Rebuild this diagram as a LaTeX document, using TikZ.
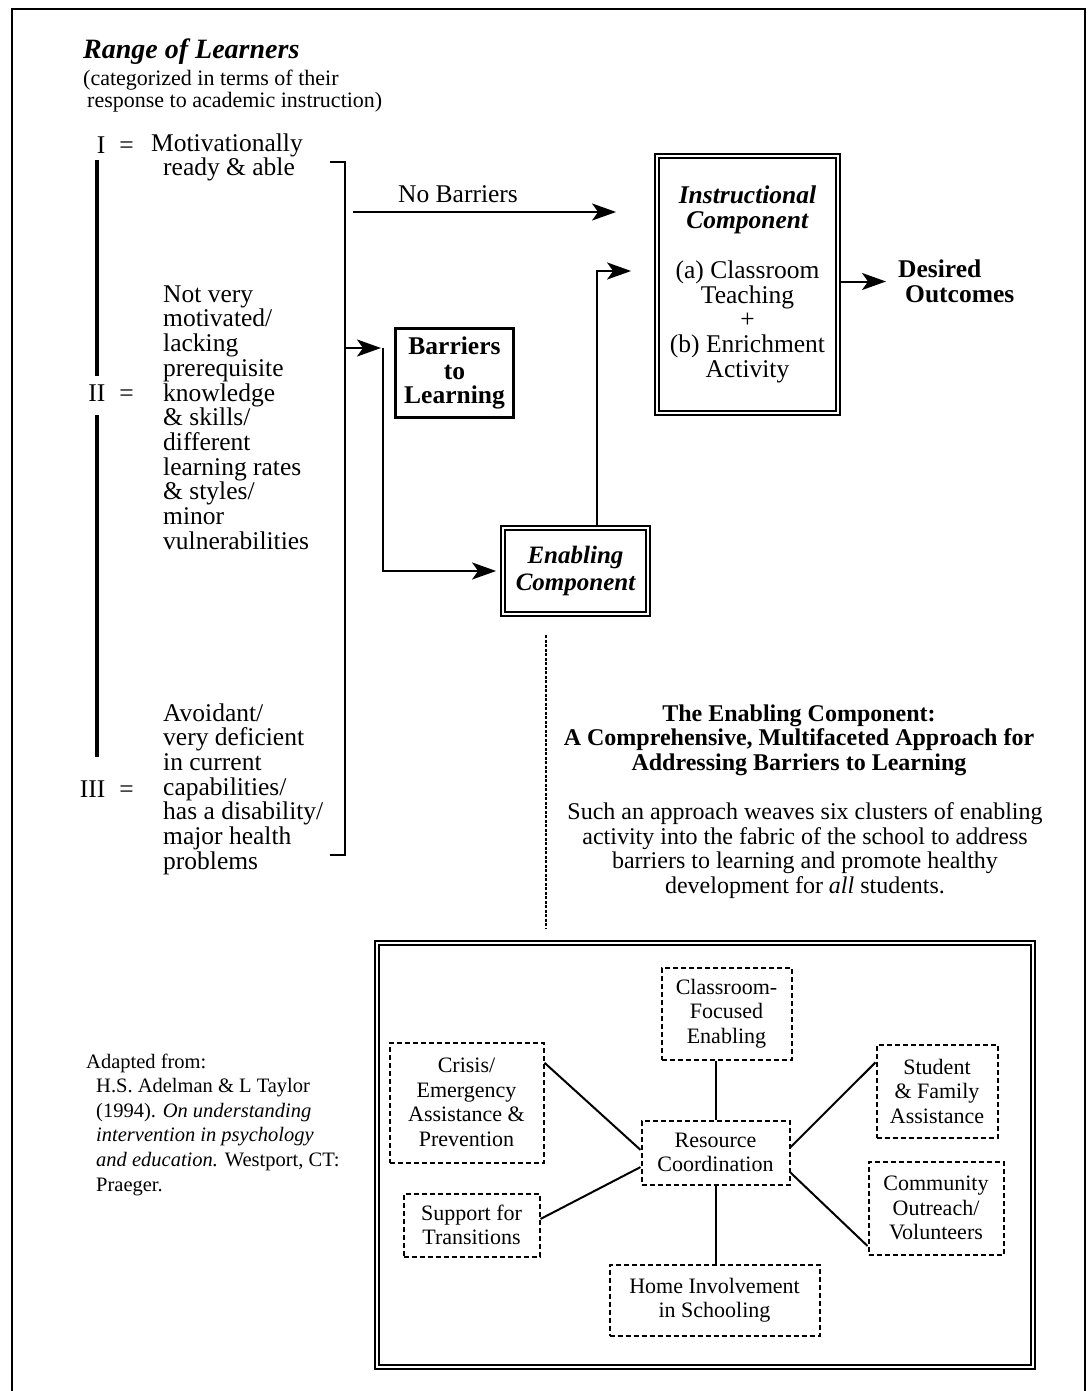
\documentclass[tikz,border=0pt]{standalone}
\usepackage{fontspec}
\setmainfont{Liberation Serif}
\usetikzlibrary{arrows.meta}

\tikzset{
  >={Stealth[length=24pt,width=17pt,inset=6pt]},
  txt/.style={inner sep=0pt,align=left,font=\fontsize{25.5}{24.7}\selectfont},
  ctr/.style={inner sep=0pt,align=center,font=\fontsize{24}{24.5}\selectfont},
  barbox/.style={draw,line width=2.6pt,inner sep=0pt,align=center,
    minimum width=118pt,minimum height=89pt,font=\bfseries\fontsize{25.5}{24.7}\selectfont},
  dblbox/.style={draw,double,double distance=2.6pt,line width=1.8pt,inner sep=0pt,align=center},
  cluster/.style={draw,dash pattern=on 5pt off 3pt,line width=2pt,inner sep=0pt,
    align=center,font=\fontsize{22}{24.5}\selectfont},
  rangebar/.style={line width=3.5pt},
  link/.style={line width=2pt},
  flow/.style={line width=2pt,->},
  vdash/.style={line width=2pt,dash pattern=on 3pt off 1.5pt}
}

\begin{document}
\begin{tikzpicture}[x=1pt,y=-1pt]
  \useasboundingbox (0,0) rectangle (1090,1391);
  \draw[line width=2.6pt] (12,1391) -- (12,9) -- (1085,9) -- (1085,1391);

  % range of learners
  \node[txt,anchor=west,font=\bfseries\itshape\fontsize{28}{28}\selectfont] (range) at (83,52) {Range of Learners};
  \node[txt,anchor=west,font=\fontsize{22}{22.5}\selectfont] (rangesub) at (83,91)
    {(categorized in terms of their\\\hspace*{4pt}response to academic instruction)};

  \node[txt,anchor=east] (lab1) at (134,145) {I\hspace{14pt}=};
  \node[txt,anchor=west] (grp1) at (151,157.5) {Motivationally\\\hspace*{12pt}ready \& able};
  \node[txt,anchor=east] (lab2) at (134,393) {II\hspace{14pt}=};
  \node[txt,anchor=west] (grp2) at (163,417.5) {Not very\\motivated/\\lacking\\prerequisite\\knowledge\\\& skills/\\different\\learning rates\\\& styles/\\minor\\vulnerabilities};
  \node[txt,anchor=east] (lab3) at (134,789) {III\hspace{14pt}=};
  \node[txt,anchor=west] (grp3) at (163,789) {Avoidant/\\very deficient\\in current\\capabilities/\\has a disability/\\major health\\problems};

  \draw[rangebar] (97,160) -- (97,376);
  \draw[rangebar] (97,415) -- (97,757);
  \draw[link] (330,162) -- (345,162) -- (345,855) -- (330,855);

  % components
  \node[barbox] (barr) at (454.5,373) {Barriers\\to\\Learning};
  \node[dblbox,minimum width=181pt,minimum height=257pt,font=\fontsize{25.5}{24.7}\selectfont] (instr) at (747.5,284.5)
    {\textbf{\textit{Instructional}}\\\textbf{\textit{Component}}\\[25pt](a) Classroom\\Teaching\\+\\(b) Enrichment\\Activity};
  \node[dblbox,minimum width=145pt,minimum height=86pt,font=\bfseries\itshape\fontsize{25}{27}\selectfont] (enab) at (575.5,571) {Enabling\\Component};
  \node[txt,anchor=west,font=\bfseries\fontsize{25.5}{24.7}\selectfont] (desired) at (898,281.5) {Desired\\\hspace*{7pt}Outcomes};
  \node[txt] (nobar) at (458,194) {No Barriers};

  \coordinate (nbstart) at (353,212);
  \coordinate (brk) at (345,348);
  \coordinate (split) at (383,348);
  \coordinate (upturn) at (597,271);

  \draw[flow,shorten >=40pt] (nbstart) -- (nbstart -| instr.west);
  \draw[flow,shorten >=2pt] (brk) -- (split);
  \draw[flow,shorten >=6pt] (split) |- (enab.west);
  \draw[flow,shorten >=25pt] (upturn |- enab.north) -- (upturn) -- (upturn -| instr.west);
  \draw[flow,shorten >=12pt] (instr.east |- desired.west) -- (desired.west);

  % enabling component text
  \node[ctr,font=\bfseries\fontsize{24}{24.5}\selectfont] (capt) at (799,740)
    {The Enabling Component:\\A Comprehensive, Multifaceted Approach for\\Addressing Barriers to Learning};
  \node[ctr] (capbody) at (805,850.5)
    {Such an approach weaves six clusters of enabling\\activity into the fabric of the school to address\\barriers to learning and promote healthy\\development for \textit{all} students.};

  \node[txt,anchor=west,font=\fontsize{20.5}{24.6}\selectfont] (source) at (86,1124.5)
    {Adapted from:\\\hspace*{10pt}H.S. Adelman \& L Taylor\\\hspace*{10pt}(1994). \textit{On understanding}\\\hspace*{10pt}\textit{intervention in psychology}\\\hspace*{10pt}\textit{and education.} Westport, CT:\\\hspace*{10pt}Praeger.};

  % six clusters
  \node[dblbox,minimum width=656pt,minimum height=424pt] (frame) at (705,1155) {};
  \draw[vdash] (546,635) -- (546,928);

  \node[cluster,minimum width=130pt,minimum height=92pt] (cfe) at (726.5,1013.5) {Classroom-\\Focused\\Enabling};
  \node[cluster,minimum width=154pt,minimum height=120pt] (crisis) at (466.5,1102.5) {Crisis/\\Emergency\\Assistance \&\\Prevention};
  \node[cluster,minimum width=121pt,minimum height=93pt] (sfa) at (937,1091) {Student\\\& Family\\Assistance};
  \node[cluster,minimum width=148pt,minimum height=64pt] (res) at (715.5,1152.5) {Resource\\Coordination};
  \node[cluster,minimum width=136pt,minimum height=63pt] (sup) at (471.5,1225) {Support for\\Transitions};
  \node[cluster,minimum width=135pt,minimum height=93pt] (com) at (936,1208) {Community\\Outreach/\\Volunteers};
  \node[cluster,minimum width=210pt,minimum height=71pt] (home) at (714.5,1300) {Home Involvement\\in Schooling};

  \draw[link] (res.north) -- (res.north |- cfe.south);
  \draw[link] (res.south) -- (res.south |- home.north);
  \draw[link] (crisis.27.6) -- (res.178);
  \draw[link] (sup.5.8) -- (res.191);
  \draw[link] (res.4.2) -- (sfa.155.3);
  \draw[link] (res.-15.4) -- (com.209.8);
\end{tikzpicture}
\end{document}
